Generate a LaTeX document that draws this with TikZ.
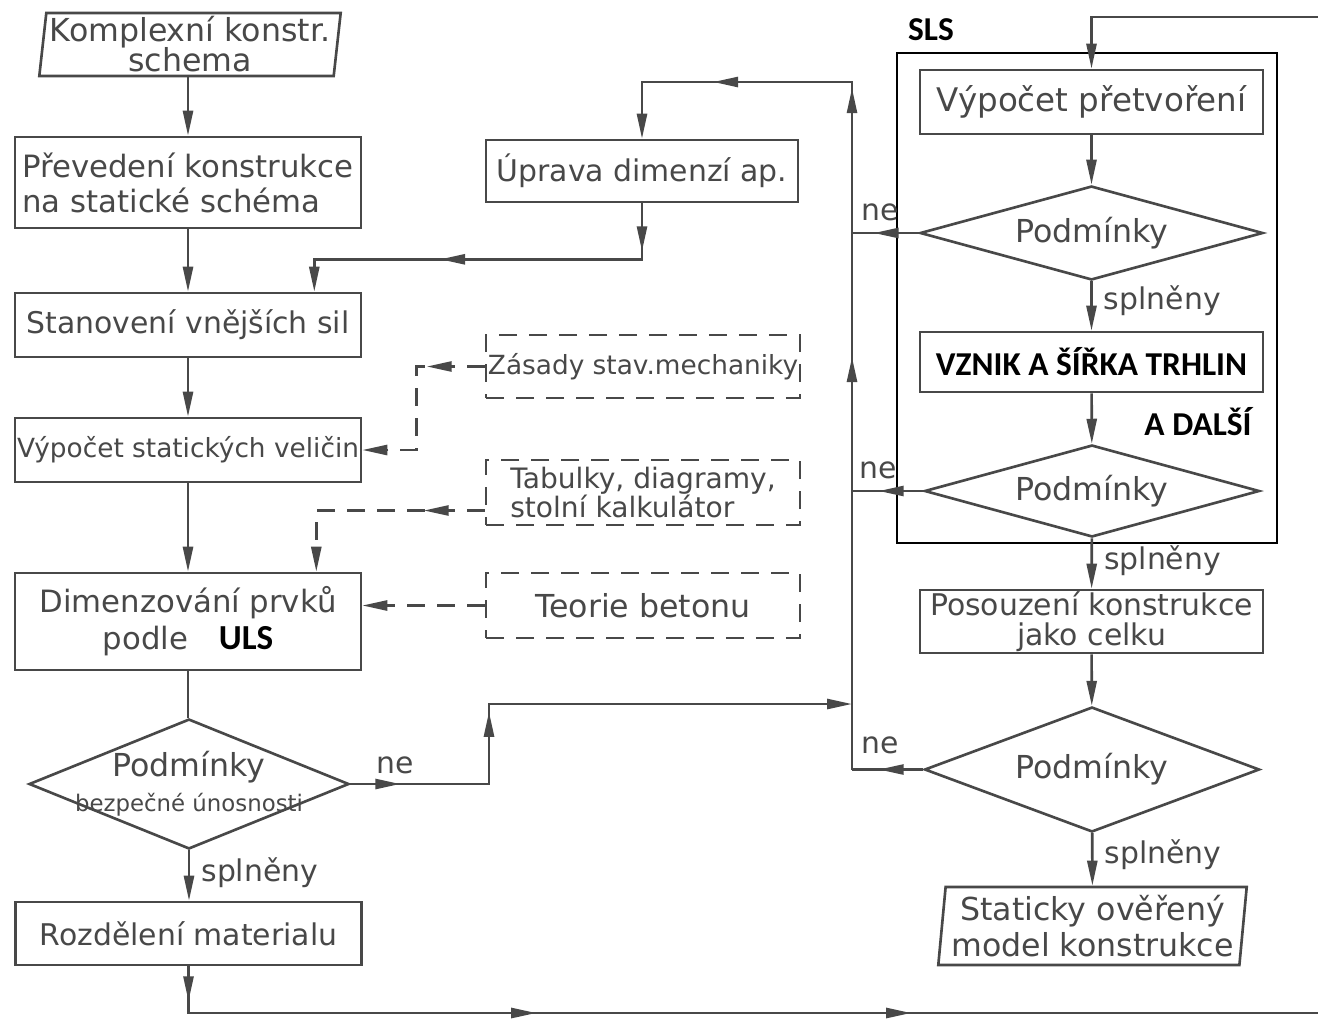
\documentclass[tikz,border=0pt]{standalone}
\usepackage{fontspec}
\setmainfont{DejaVu Sans}
\newfontfamily\calib{Carlito}
\usetikzlibrary{shapes.geometric,arrows.meta,decorations.markings,calc}
\definecolor{tus}{HTML}{484848}

\begin{document}
\begin{tikzpicture}[x=0.02cm,y=-0.02cm,line width=1.5pt,color=tus,
    >={Triangle[length=5mm,width=2mm]},
    every node/.style={font=\fontsize{17}{19}\selectfont},
    velke/.style={font=\fontsize{18}{20}\selectfont},
    blok/.style={draw,minimum width=6.92cm,minimum height=#1,inner sep=0pt,align=center},
    carka/.style={dash pattern=on 3.6mm off 2.4mm},
    carkblok/.style={blok=#1,carka,minimum width=6.28cm},
    kosy/.style={draw,trapezium,trapezium left angle=83,trapezium right angle=97,trapezium stretches=true,inner sep=0pt,align=center},
    rozhod/.style 2 args={draw,diamond,minimum width=#1,minimum height=#2,inner sep=0pt},
    pip/.style={postaction={decorate,decoration={markings,mark=at position #1 with {\arrow{>}}}}},
    tucne/.style={text=black,font=\calib\bfseries\fontsize{19}{21}\selectfont}]
\fill[white] (0,0) rectangle (1318,1018);
\useasboundingbox (0,0) rectangle (1318,1018);

% left column
\node[kosy,minimum width=6.04cm,minimum height=1.26cm,velke] (k1) at (190,44.5) {Komplexní konstr.\\[-3pt]schema};
\node[blok=1.82cm,align=left,font=\fontsize{17.5}{20}\selectfont] (k2) at (188,182.5) {Převedení konstrukce\\na statické schéma};
\node[blok=1.28cm] (k3) at (188,325) {Stanovení vnějších sil};
\node[blok=1.28cm,font=\fontsize{15}{17}\selectfont] (k4) at (188,450) {Výpočet statických veličin};
\node[blok=1.94cm,font=\fontsize{17.5}{21}\selectfont] (k5) at (188,621.5) {Dimenzování prvků\\podle\quad{\calib\bfseries\fontsize{20}{21}\selectfont\color{black}ULS}};
\node[rozhod={6.4cm}{2.6cm},label={[align=center,velke]center:Podmínky\\{\fontsize{13}{14}\selectfont bezpečné únosnosti}}] (d1) at (189,784) {};
\node[blok=1.26cm] (k6) at (188.5,933.5) {Rozdělení materialu};

% middle column
\node[blok=1.24cm,minimum width=6.24cm] (upr) at (642,171) {Úprava dimenzí ap.};
\node[carkblok=1.26cm,font=\fontsize{15}{17}\selectfont] (zas) at (643,366.5) {Zásady stav.mechaniky};
\node[carkblok=1.3cm,align=left,font=\fontsize{16}{17}\selectfont] (tab) at (643,492.5) {Tabulky, diagramy,\\stolní kalkulátor};
\node[carkblok=1.3cm,velke] (teo) at (643,605.5) {Teorie betonu};

% right column
\node[draw=black,line width=0.8pt,minimum width=7.6cm,minimum height=9.8cm] (sls) at (1087,298) {};
\node[tucne] (slsnap) at (931,30) {SLS};
\node[blok=1.28cm,minimum width=6.86cm,font=\fontsize{18.5}{20}\selectfont] (v1) at (1091.5,102) {Výpočet přetvoření};
\node[rozhod={6.86cm}{1.88cm},label={[velke]center:Podmínky}] (d2) at (1091.5,233) {};
\node[blok=1.2cm,minimum width=6.86cm,tucne] (vz) at (1091.5,362) {VZNIK A ŠÍŘKA TRHLIN};
\node[tucne] (dalsi) at (1198,422) {A DALŠÍ};
\node[rozhod={6.7cm}{1.84cm},label={[velke]center:Podmínky}] (d3) at (1092,491) {};
\node[blok=1.26cm,minimum width=6.86cm,font=\fontsize{17}{17}\selectfont] (pos) at (1091.5,621.5) {Posouzení konstrukce\\jako celku};
\node[rozhod={6.7cm}{2.5cm},label={[velke]center:Podmínky}] (d4) at (1092,769.5) {};
\node[kosy,trapezium left angle=83.4,trapezium right angle=96.6,minimum width=6.18cm,minimum height=1.56cm,velke] (st) at (1092.5,926) {Staticky ověřený\\model konstrukce};

\coordinate (jTop) at (852,82);
\coordinate (jUls) at (852,704);
\coordinate (zlom) at (489,704);
\coordinate (vpravoD) at (1340,1013);
\coordinate (vpravoH) at (1340,17);

% connectors
\draw[->] (k2.north |- k1.south) -- (k2.north);
\draw[->] (k2) -- (k3);
\draw[->] (k3) -- (k4);
\draw[->] (k4) -- (k5);
\draw (k5.south) -- (k5.south |- d1.north);
\draw[->] (d1.south) -- (d1.south |- k6.north) node[pos=0.45,right=3pt] (spl1) {splněny};
\draw[->,pip=0.7cm,pip=7.89cm,pip=15.39cm] (k6.south) |- (vpravoD) -- (vpravoH) -| (v1.north);
\draw[->,pip=1cm,pip=4.22cm] (d1.east) -| (zlom) -- (jUls);
\node (ne1) at (395,765) {ne};
\draw[->,pip=8.25cm,pip=13.63cm,pip=16.53cm] (d4.west -| jTop) -- (jTop) -| (upr.north);
\draw[->,pip=0.96cm,pip=5.16cm] (upr.south) -- ++(0,56) -| ([xshift=-0.96cm]k3.north east);
\draw[carka,->,pip=1.16cm] (zas.west) -- ++(-68,0) |- (k4.east);
\draw[carka,->,pip=1.22cm] ([yshift=-0.36cm]tab.west) -| ([xshift=-0.92cm]k5.north east);
\draw[carka,->] (teo.west) -- (teo.west -| k5.east);

\draw[->] (v1) -- (d2);
\draw[pip=0.9cm] (d2.west) -- (d2.west -| jTop);
\node (ne2) at (880,212) {ne};
\draw[->] (d2) -- (vz) node[pos=0.4,right=3pt] (spl2) {splněny};
\draw[->] (vz) -- (d3);
\draw[pip=0.89cm] (d3.west) -- (d3.west -| jTop);
\node (ne3) at (878,470) {ne};
\draw[->] (d3) -- (pos) node[pos=0.45,right=3pt] (spl3) {splněny};
\draw[->] (pos) -- (d4);
\draw[pip=0.89cm] (d4.west) -- (d4.west -| jTop);
\node (ne4) at (880,745) {ne};
\draw[->] (d4) -- (st) node[pos=0.4,right=3pt] (spl4) {splněny};
\end{tikzpicture}
\end{document}
